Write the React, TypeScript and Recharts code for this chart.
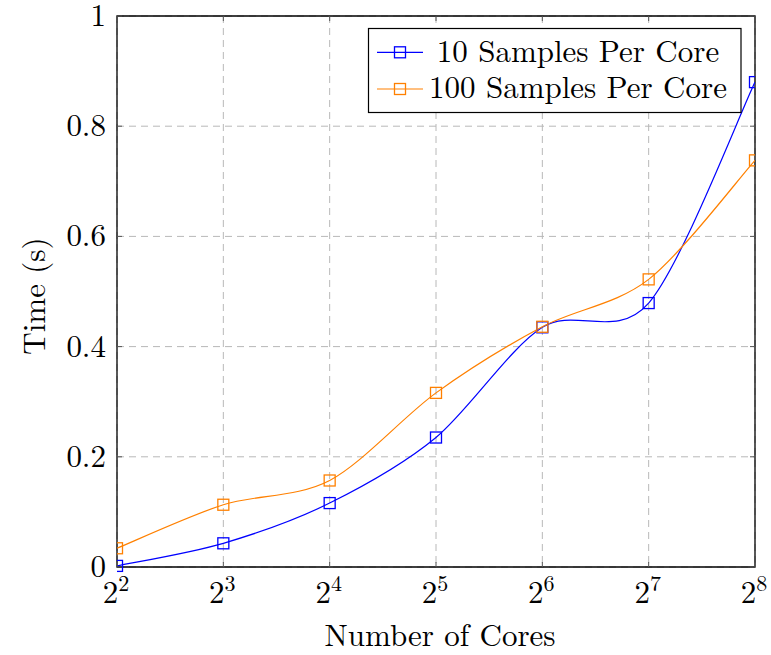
import React from 'react';
import { LineChart, Line, XAxis, YAxis, CartesianGrid, ReferenceArea } from 'recharts';

const cores = [4, 8, 16, 32, 64, 128, 256];
const tenSamples = [0.002, 0.043, 0.116, 0.235, 0.435, 0.479, 0.88];
const hundredSamples = [0.034, 0.113, 0.157, 0.316, 0.436, 0.522, 0.738];
const xTickExponents = ['2', '3', '4', '5', '6', '7', '8'];
const yTicks = [0, 0.2, 0.4, 0.6, 0.8, 1];
const yTickLabels = ['0', '0.2', '0.4', '0.6', '0.8', '1'];
const seriesNames = ['10 Samples Per Core', '100 Samples Per Core'];

const data = cores.map((c, i) => ({ cores: c, ten: tenSamples[i], hundred: hundredSamples[i] }));

const W = 771;
const H = 655;
const M = { top: 16, right: 16, bottom: 38, left: 57 };
const YW = 60;
const XH = 50;
const PLOT_TOP = M.top;
const PLOT_BOTTOM = H - M.bottom - XH;
const PLOT_LEFT = M.left + YW;
const PLOT_RIGHT = W - M.right;
const FONT = '"Latin Modern Roman", "Liberation Serif", serif';
const FS = 31;
const BLUE = '#0000ff';
const ORANGE = '#ff8000';
const TICK_COLOR = '#555';

// pgfplots-like smooth curve (cardinal spline, tension 0.55)
const K = 0.2775 * 0.55;
function pgfSmooth(context: any) {
  let xs: number[] = [];
  let ys: number[] = [];
  return {
    areaStart() {},
    areaEnd() {},
    lineStart() {
      xs = [];
      ys = [];
    },
    point(x: number, y: number) {
      xs.push(+x);
      ys.push(+y);
    },
    lineEnd() {
      const n = xs.length;
      if (!n) return;
      context.moveTo(xs[0], ys[0]);
      for (let i = 0; i < n - 1; i++) {
        const i0 = Math.max(0, i - 1);
        const i2 = Math.min(n - 1, i + 2);
        const c1x = xs[i] + K * (xs[i + 1] - xs[i0]);
        const c1y = ys[i] + K * (ys[i + 1] - ys[i0]);
        const c2x = xs[i + 1] - K * (xs[i2] - xs[i]);
        const c2y = ys[i + 1] - K * (ys[i2] - ys[i]);
        context.bezierCurveTo(c1x, c1y, c2x, c2y, xs[i + 1], ys[i + 1]);
      }
    },
  };
}

const makeDot = (color: string) => (props: any) => {
  const { cx, cy, index } = props;
  if (cx == null || cy == null) return <g key={index} />;
  return <rect key={index} x={cx - 5.5} y={cy - 5.5} width={11} height={11} fill="none" stroke={color} strokeWidth={1.3} />;
};

const XTick = (props: any) => {
  const { x, index } = props;
  return (
    <g>
      <line x1={x} x2={x} y1={PLOT_BOTTOM} y2={PLOT_BOTTOM - 5} stroke={TICK_COLOR} strokeWidth={1} />
      <line x1={x} x2={x} y1={PLOT_TOP} y2={PLOT_TOP + 5} stroke={TICK_COLOR} strokeWidth={1} />
      <text x={x - 1} y={603} textAnchor="middle" fontFamily={FONT} fontSize={FS} fill="#000">
        2
        <tspan dy={-12} fontSize={22}>
          {xTickExponents[index]}
        </tspan>
      </text>
    </g>
  );
};

const YTick = (props: any) => {
  const { y, index } = props;
  return (
    <g>
      <line x1={PLOT_LEFT} x2={PLOT_LEFT + 5} y1={y} y2={y} stroke={TICK_COLOR} strokeWidth={1} />
      <line x1={PLOT_RIGHT} x2={PLOT_RIGHT - 5} y1={y} y2={y} stroke={TICK_COLOR} strokeWidth={1} />
      <text x={106} y={y + 10} textAnchor="end" fontFamily={FONT} fontSize={FS} fill="#000">
        {yTickLabels[index]}
      </text>
    </g>
  );
};

const XLabel = () => (
  <text x={440} y={646} textAnchor="middle" fontFamily={FONT} fontSize={FS} fill="#000">
    Number of Cores
  </text>
);

const YLabel = () => (
  <text x={45} y={296} transform="rotate(-90 45 296)" textAnchor="middle" fontFamily={FONT} fontSize={FS} fill="#000">
    Time (s)
  </text>
);

const LegendBox = () => {
  const colors = [BLUE, ORANGE];
  const baselines = [61.5, 98];
  const markerY = [52.3, 89];
  return (
    <svg width={W} height={H} style={{ position: 'absolute', left: 0, top: 0, pointerEvents: 'none' }}>
      <rect x={368.5} y={28.5} width={372.5} height={84} fill="#fff" stroke="#000" strokeWidth={1.2} />
      {seriesNames.map((name, i) => (
        <g key={name}>
          <line x1={377} x2={423} y1={markerY[i]} y2={markerY[i]} stroke={colors[i]} strokeWidth={1.2} />
          <rect x={394.5} y={markerY[i] - 5.5} width={11} height={11} fill="none" stroke={colors[i]} strokeWidth={1.3} />
          <text x={578} y={baselines[i]} textAnchor="middle" fontFamily={FONT} fontSize={FS} fill="#000">
            {name}
          </text>
        </g>
      ))}
    </svg>
  );
};

export default function App() {
  return (
    <div style={{ position: 'absolute', left: 0, top: 0, width: W, height: H, background: '#fff' }}>
      <LineChart width={W} height={H} data={data} margin={M}>
        <CartesianGrid stroke="#b8b8b8" strokeDasharray="7 5" strokeWidth={1} />
        <XAxis
          dataKey="cores"
          type="number"
          scale="log"
          domain={[4, 256]}
          ticks={cores}
          allowDataOverflow
          height={XH}
          axisLine={false}
          tickLine={false}
          tick={<XTick />}
          interval={0}
          label={<XLabel />}
        />
        <YAxis
          type="number"
          domain={[0, 1]}
          ticks={yTicks}
          width={YW}
          axisLine={false}
          tickLine={false}
          tick={<YTick />}
          interval={0}
          label={<YLabel />}
        />
        <ReferenceArea x1={4} x2={256} y1={0} y2={1} fill="none" stroke="#000" strokeWidth={1.3} ifOverflow="visible" />
        <Line
          dataKey="ten"
          name={seriesNames[0]}
          type={pgfSmooth as any}
          stroke={BLUE}
          strokeWidth={1.2}
          dot={makeDot(BLUE)}
          activeDot={false}
          isAnimationActive={false}
        />
        <Line
          dataKey="hundred"
          name={seriesNames[1]}
          type={pgfSmooth as any}
          stroke={ORANGE}
          strokeWidth={1.2}
          dot={makeDot(ORANGE)}
          activeDot={false}
          isAnimationActive={false}
        />
      </LineChart>
      <LegendBox />
    </div>
  );
}
